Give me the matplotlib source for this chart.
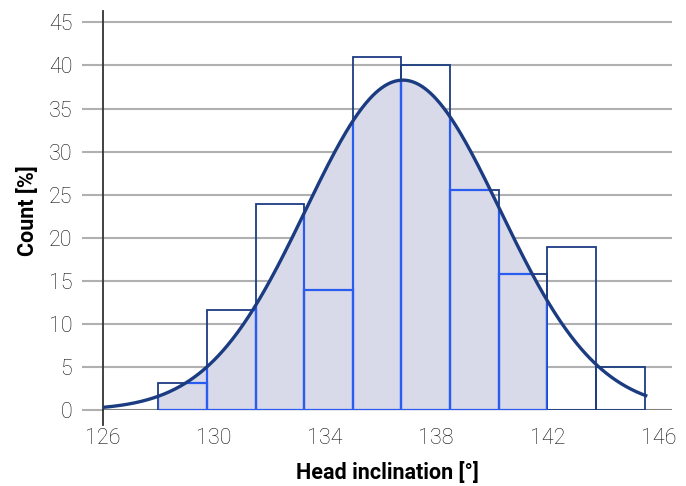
import numpy as np
import matplotlib
matplotlib.use("Agg")
import matplotlib.pyplot as plt

plt.rcParams['font.family'] = ['Roboto', 'DejaVu Sans']

# histogram bins (head inclination, degrees) and counts in %
bin_edges = [128.0, 129.75, 131.5, 133.25, 135.0, 136.75, 138.5, 140.25, 142.0, 143.75, 145.5]
counts = [3.2, 11.6, 23.9, 13.9, 41.0, 40.0, 25.5, 15.8, 18.9, 5.0]

# fitted normal curve
mu = 136.8
sigma = 3.5
peak = 38.3
curve_range = [126.0, 145.6]
fill_range = [128.0, 142.0]

y_ticks = [0, 5, 10, 15, 20, 25, 30, 35, 40, 45]
x_ticks = [126, 130, 134, 138, 142, 146]

navy = '#1c3c82'
bright = '#2a5cf0'
fill_col = '#d8daea'

fig = plt.figure(figsize=(6.86, 4.86), dpi=100)
ax = fig.add_axes([0.150, 0.156, 0.830, 0.821])

ax.set_xlim(126, 146.5)
ax.set_ylim(0, 46.3)

for y in y_ticks[1:]:
    ax.axhline(y, color='#b0b0b0', lw=1.5, zorder=0)
ax.axhline(0, color='#808080', lw=1.5, zorder=0)

lefts = np.array(bin_edges[:-1])
widths = np.diff(bin_edges)
ax.bar(lefts, counts, width=widths, align='edge', facecolor='none',
       edgecolor=navy, lw=1.3, zorder=2)

xs = np.linspace(curve_range[0], curve_range[1], 400)
ys = peak * np.exp(-(xs - mu) ** 2 / (2 * sigma ** 2))

xf = np.linspace(fill_range[0], fill_range[1], 300)
yf = peak * np.exp(-(xf - mu) ** 2 / (2 * sigma ** 2))
poly = ax.fill_between(xf, 0, yf, color=fill_col, lw=0, zorder=1)

inner = ax.bar(lefts, counts, width=widths, align='edge', facecolor='none',
               edgecolor=bright, lw=1.6, zorder=3)
clip = poly.get_paths()[0]
for patch in inner:
    patch.set_clip_path(clip, ax.transData)

ax.plot(xs, ys, color=navy, lw=2.4, zorder=4, solid_capstyle='butt')

for s in ['top', 'right', 'bottom']:
    ax.spines[s].set_visible(False)
ax.spines['left'].set_color('#333333')
ax.spines['left'].set_linewidth(1.3)
ax.plot([126, 126], [-1.7, 0], color='#333333', lw=1.3, clip_on=False, zorder=5)

ax.set_yticks(y_ticks)
ax.set_xticks(x_ticks)
ax.tick_params(axis='y', length=15, width=1.5, color='#b0b0b0', pad=7,
               labelsize=15.5, labelcolor='#111111')
ax.tick_params(axis='x', length=0, pad=13, labelsize=15.5, labelcolor='#111111')
for lab in ax.get_xticklabels() + ax.get_yticklabels():
    lab.set_fontweight('light')

ax.set_xlabel('Head inclination [°]', fontsize=15.5, fontweight='bold', labelpad=9)
ax.set_ylabel('Count [%]', fontsize=15.5, fontweight='bold', labelpad=7)

fig.savefig('out.png', dpi=100)
